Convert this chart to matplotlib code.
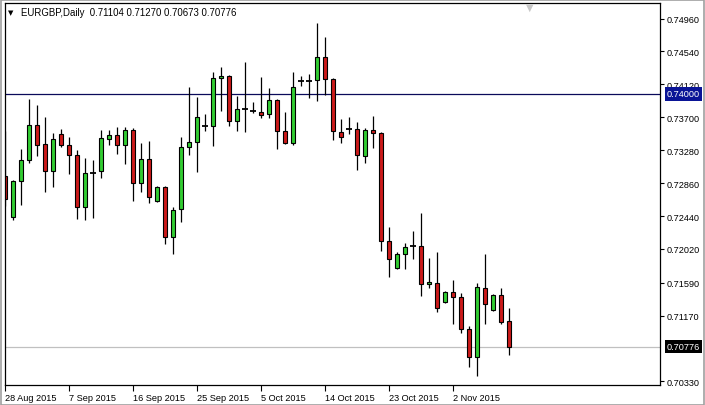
import matplotlib
matplotlib.use("Agg")
import matplotlib.pyplot as plt
import numpy as np
import pandas as pd

# ---------------- data ----------------
symbol = "EURGBP,Daily"
opens = [0.72951, 0.72428, 0.72887, 0.73155, 0.73602, 0.73359, 0.73015, 0.73487,
         0.73346, 0.73219, 0.72556, 0.72989, 0.73015, 0.73423, 0.73474, 0.73346,
         0.73538, 0.72862, 0.73168, 0.72632, 0.72811, 0.72173, 0.72530, 0.73321,
         0.73385, 0.73589, 0.73589, 0.74201, 0.74227, 0.73653, 0.73806, 0.73774,
         0.73767, 0.73742, 0.73920, 0.73525, 0.73372, 0.74163, 0.74163, 0.74176,
         0.74469, 0.74188, 0.73512, 0.73551, 0.73551, 0.73206, 0.73538, 0.73500,
         0.72122, 0.71778, 0.71956, 0.72058, 0.72058, 0.71574, 0.71586, 0.71344,
         0.71471, 0.71408, 0.71000, 0.70642, 0.71523, 0.71242, 0.71433, 0.71104]
highs = [0.73525, 0.72900, 0.73295, 0.73933, 0.73857, 0.73704, 0.73500, 0.73551,
         0.73449, 0.73283, 0.73181, 0.73155, 0.73538, 0.73538, 0.73576, 0.73576,
         0.73563, 0.73372, 0.73398, 0.72824, 0.72824, 0.72556, 0.73449, 0.74086,
         0.73959, 0.73742, 0.74278, 0.74341, 0.74240, 0.73971, 0.74405, 0.73895,
         0.74214, 0.74074, 0.73930, 0.73767, 0.74278, 0.74227, 0.74252, 0.74903,
         0.74724, 0.74201, 0.73678, 0.73704, 0.73640, 0.73563, 0.73716, 0.73512,
         0.72301, 0.71982, 0.72097, 0.72250, 0.72479, 0.71905, 0.71982, 0.71484,
         0.71625, 0.71459, 0.71038, 0.71586, 0.71956, 0.71446, 0.71523, 0.71270]
lows = [0.72568, 0.72390, 0.72581, 0.73117, 0.73206, 0.72747, 0.72811, 0.73321,
        0.72977, 0.72403, 0.72390, 0.72415, 0.72926, 0.73346, 0.73232, 0.73104,
        0.72632, 0.72747, 0.72607, 0.72619, 0.72084, 0.71956, 0.72364, 0.73219,
        0.73002, 0.73525, 0.73334, 0.73780, 0.73589, 0.73525, 0.73512, 0.73755,
        0.73691, 0.73691, 0.73295, 0.73359, 0.73346, 0.74099, 0.73946, 0.73908,
        0.73984, 0.73410, 0.73372, 0.73487, 0.73028, 0.73117, 0.73308, 0.71994,
        0.71663, 0.71765, 0.71765, 0.71892, 0.71420, 0.71523, 0.71216, 0.71331,
        0.71063, 0.70948, 0.70515, 0.70400, 0.71063, 0.71229, 0.71063, 0.70673]
closes = [0.72658, 0.72887, 0.73155, 0.73602, 0.73346, 0.73015, 0.73423, 0.73346,
          0.73219, 0.72556, 0.72989, 0.72992, 0.73436, 0.73474, 0.73346, 0.73538,
          0.72862, 0.73168, 0.72683, 0.72811, 0.72173, 0.72517, 0.73321, 0.73385,
          0.73704, 0.73590, 0.74201, 0.74227, 0.73653, 0.73806, 0.73807, 0.73773,
          0.73729, 0.73920, 0.73525, 0.73372, 0.74086, 0.74164, 0.74162, 0.74469,
          0.74188, 0.73525, 0.73449, 0.73552, 0.73219, 0.73538, 0.73500, 0.72122,
          0.71892, 0.71956, 0.72046, 0.72059, 0.71574, 0.71599, 0.71267, 0.71471,
          0.71408, 0.71000, 0.70642, 0.71535, 0.71318, 0.71433, 0.71089, 0.70776]

# trading days incl. Sunday bars (no Saturdays)
all_days = pd.date_range("2015-08-28", "2015-11-10", freq="D")
dates = [d for d in all_days if d.weekday() != 5]

tick_labels = ["28 Aug 2015", "7 Sep 2015", "16 Sep 2015", "25 Sep 2015",
               "5 Oct 2015", "14 Oct 2015", "23 Oct 2015", "2 Nov 2015"]
y_ticks = [0.74960, 0.74540, 0.74120, 0.73700, 0.73280, 0.72860, 0.72440,
           0.72020, 0.71590, 0.71170, 0.70330]
level_line = 0.74000
last_price = 0.70776

# ---------------- figure ----------------
W, H = 705, 406
fig = plt.figure(figsize=(W / 100, H / 100), dpi=100)
fig.patch.set_facecolor("white")
ax = fig.add_axes([5 / W, 1 - 386 / H, 655 / W, 382 / H])
ax.set_facecolor("white")

FONT = "Liberation Sans"
green = "#32CD32"
red = "#CC1A1A"
x = np.arange(len(opens))
o = np.array(opens); h = np.array(highs); l = np.array(lows); c = np.array(closes)

# wicks
ax.vlines(x, l, h, color="black", linewidth=0.9, zorder=2)
body_w = 0.55
doji = np.abs(c - o) < 0.00005
up = (c > o) & ~doji
dn = (c < o) & ~doji
ax.bar(x[up], (c - o)[up], bottom=o[up], width=body_w, color=green,
       edgecolor="black", linewidth=0.8, zorder=3)
ax.bar(x[dn], (o - c)[dn], bottom=c[dn], width=body_w, color=red,
       edgecolor="black", linewidth=0.8, zorder=3)
ax.hlines(o[doji], x[doji] - body_w / 2 - 0.06, x[doji] + body_w / 2 + 0.06,
          color="black", linewidth=1.3, zorder=3)

# horizontal lines
ax.axhline(level_line, color="#0A0A5A", linewidth=0.9, zorder=1)
ax.axhline(last_price, color="#C0C0C0", linewidth=0.9, zorder=1)

ax.set_xlim(0, 655 / 8)
ax.set_ylim(0.70285, 0.75158)

# axes ticks
ax.yaxis.tick_right()
ax.set_yticks(y_ticks)
ax.set_yticklabels([f"{v:.5f}" for v in y_ticks], fontsize=6.6, family=FONT)
ax.tick_params(axis="y", direction="out", length=3, width=0.8, pad=2, colors="black")

date_str = [f"{d.day} {d.strftime('%b')} {d.year}" for d in dates]
tick_pos = [date_str.index(t) for t in tick_labels]
ax.set_xticks(tick_pos)
ax.set_xticklabels(tick_labels, fontsize=6.6, family=FONT, ha="left")
ax.tick_params(axis="x", direction="out", length=4, width=0.8, pad=2, colors="black")

for s in ax.spines.values():
    s.set_color("black")
    s.set_linewidth(0.9)
    s.set_zorder(5)

# price label boxes on the right
ax.annotate(f"{level_line:.5f}", xy=(1, level_line), xycoords=("axes fraction", "data"),
            xytext=(5, 0), textcoords="offset points", va="center", ha="left",
            fontsize=6.6, family=FONT, color="white",
            bbox=dict(boxstyle="square,pad=0.25", fc="#0A1496", ec="none"),
            annotation_clip=False)
ax.annotate(f"{last_price:.5f}", xy=(1, last_price), xycoords=("axes fraction", "data"),
            xytext=(5, 0), textcoords="offset points", va="center", ha="left",
            fontsize=6.6, family=FONT, color="white",
            bbox=dict(boxstyle="square,pad=0.25", fc="black", ec="none"),
            annotation_clip=False)

# header
fig.text(8 / W, 1 - 13 / H, "\u25BC", fontsize=5, family="DejaVu Sans",
         va="center", ha="left", color="black")
fig.text(21 / W, 1 - 13 / H,
         f"{symbol}  {opens[-1]:.5f} {highs[-1]:.5f} {lows[-1]:.5f} {closes[-1]:.5f}",
         fontsize=6.9, family=FONT, va="center", ha="left", color="black")
# chart shift marker
fig.text(530 / W, 1 - 8 / H, "\u25BC", fontsize=7, family="DejaVu Sans",
         va="center", ha="center", color="#C8C8C8")

# outer frame
fig.add_artist(plt.Rectangle((0.5 / W, 0.5 / H), 1 - 1.5 / W, 1 - 1.5 / H,
                             transform=fig.transFigure, fill=False,
                             edgecolor="#A0A0A0", linewidth=1.2))

fig.savefig("out.png", dpi=100)
